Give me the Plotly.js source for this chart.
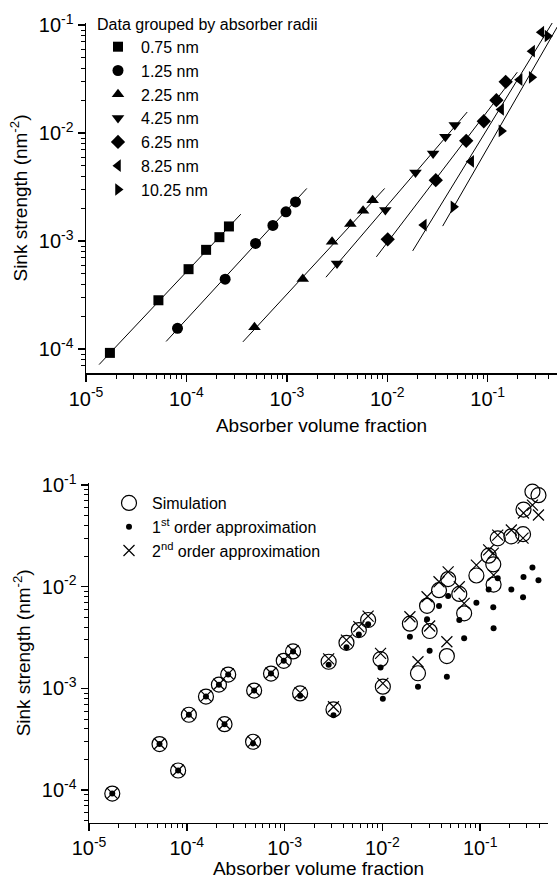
<!DOCTYPE html>
<html>
<head>
<meta charset="utf-8">
<script src="https://cdn.plot.ly/plotly-3.0.1.min.js"></script>
<style>html,body{margin:0;padding:0;background:#fff}</style>
</head>
<body>
<div id="chart" style="width:557px;height:879px"></div>
<script>
// ---------- Top panel: data grouped by absorber radii ----------
const r075_x = [1.73e-5, 5.26e-5, 1.05e-4, 1.57e-4, 2.13e-4, 2.65e-4];
const r075_y = [9.25e-5, 2.84e-4, 5.51e-4, 8.32e-4, 1.09e-3, 1.37e-3];
const r125_x = [8.15e-5, 2.43e-4, 4.88e-4, 7.26e-4, 9.80e-4, 1.22e-3];
const r125_y = [1.56e-4, 4.45e-4, 9.53e-4, 1.40e-3, 1.87e-3, 2.31e-3];
const r225_x = [4.76e-4, 1.44e-3, 2.82e-3, 4.29e-3, 5.74e-3, 7.14e-3];
const r225_y = [1.60e-4, 4.48e-4, 9.86e-4, 1.44e-3, 1.91e-3, 2.40e-3];
const r425_x = [3.16e-3, 9.57e-3, 1.91e-2, 2.86e-2, 3.79e-2, 4.70e-2];
const r425_y = [6.22e-4, 1.94e-3, 4.33e-3, 6.49e-3, 9.25e-3, 1.19e-2];
const r625_x = [1.01e-2, 3.04e-2, 6.11e-2, 9.14e-2, 0.122, 0.151];
const r625_y = [1.04e-3, 3.67e-3, 8.49e-3, 1.29e-2, 2.02e-2, 2.99e-2];
const r825_x = [2.31e-2, 6.85e-2, 0.136, 0.208, 0.277, 0.342];
const r825_y = [1.41e-3, 5.48e-3, 1.66e-2, 3.13e-2, 5.74e-2, 8.61e-2];
const r1025_x = [4.56e-2, 0.137, 0.274, 0.394];
const r1025_y = [2.08e-3, 1.05e-2, 3.29e-2, 7.94e-2];

// fitted lines (end points)
const fit075_x = [1.35e-5, 3.48e-4], fit075_y = [7.21e-5, 1.78e-3];
const fit125_x = [6.28e-5, 1.58e-3], fit125_y = [1.18e-4, 3.08e-3];
const fit225_x = [3.65e-4, 9.42e-3], fit225_y = [1.17e-4, 3.08e-3];
const fit425_x = [2.45e-3, 6.25e-2], fit425_y = [4.64e-4, 1.57e-2];
const fit625_x = [7.78e-3, 0.197],   fit625_y = [7.16e-4, 3.67e-2];
const fit825_x = [1.79e-2, 0.453],   fit825_y = [8.13e-4, 0.110];
const fit1025_x = [3.56e-2, 0.493],  fit1025_y = [1.38e-3, 0.0964];

const radiusLabels = ['0.75 nm','1.25 nm','2.25 nm','4.25 nm','6.25 nm','8.25 nm','10.25 nm'];

// ---------- Bottom panel: simulation vs approximations ----------
const sim_x = [
  1.73e-5, 5.26e-5, 1.05e-4, 1.57e-4, 2.13e-4, 2.65e-4,
  8.15e-5, 2.43e-4, 4.88e-4, 7.26e-4, 9.80e-4, 1.22e-3,
  4.76e-4, 1.44e-3, 2.82e-3, 4.29e-3, 5.74e-3, 7.14e-3,
  3.16e-3, 9.57e-3, 1.91e-2, 2.86e-2, 3.79e-2, 4.70e-2,
  1.01e-2, 3.04e-2, 6.11e-2, 9.14e-2, 0.122, 0.151,
  2.31e-2, 6.85e-2, 0.136, 0.208, 0.277, 0.342,
  4.56e-2, 0.137, 0.274, 0.394];
const sim_y = [
  9.25e-5, 2.84e-4, 5.51e-4, 8.32e-4, 1.09e-3, 1.37e-3,
  1.56e-4, 4.45e-4, 9.53e-4, 1.40e-3, 1.87e-3, 2.31e-3,
  2.99e-4, 8.93e-4, 1.83e-3, 2.81e-3, 3.75e-3, 4.71e-3,
  6.22e-4, 1.94e-3, 4.33e-3, 6.49e-3, 9.25e-3, 1.19e-2,
  1.04e-3, 3.67e-3, 8.49e-3, 1.29e-2, 2.02e-2, 2.99e-2,
  1.41e-3, 5.48e-3, 1.66e-2, 3.13e-2, 5.74e-2, 8.61e-2,
  2.08e-3, 1.05e-2, 3.29e-2, 7.94e-2];
const first_y = [
  9.25e-5, 2.84e-4, 5.51e-4, 8.32e-4, 1.09e-3, 1.37e-3,
  1.56e-4, 4.45e-4, 9.53e-4, 1.40e-3, 1.87e-3, 2.31e-3,
  2.88e-4, 8.47e-4, 1.71e-3, 2.54e-3, 3.40e-3, 4.27e-3,
  5.45e-4, 1.61e-3, 3.22e-3, 4.78e-3, 6.46e-3, 8.11e-3,
  7.92e-4, 2.35e-3, 4.71e-3, 6.97e-3, 9.42e-3, 1.21e-2,
  1.04e-3, 3.11e-3, 6.27e-3, 9.42e-3, 1.25e-2, 1.55e-2,
  1.30e-3, 3.90e-3, 7.87e-3, 1.16e-2];
const second_y = [
  9.3e-5, 2.86e-4, 5.55e-4, 8.4e-4, 1.10e-3, 1.39e-3,
  1.57e-4, 4.5e-4, 9.6e-4, 1.42e-3, 1.90e-3, 2.35e-3,
  3.0e-4, 9.1e-4, 1.95e-3, 2.99e-3, 4.05e-3, 5.15e-3,
  6.61e-4, 2.21e-3, 5.07e-3, 7.98e-3, 1.12e-2, 1.40e-2,
  1.12e-3, 4.11e-3, 1.00e-2, 1.63e-2, 2.30e-2, 3.22e-2,
  1.83e-3, 6.87e-3, 2.14e-2, 3.61e-2, 5.31e-2, 6.35e-2,
  2.88e-3, 1.30e-2, 3.01e-2, 5.07e-2];

const seriesLabels = ['Simulation', '1<sup>st</sup> order approximation', '2<sup>nd</sup> order approximation'];
const xTickVals = [1e-5, 1e-4, 1e-3, 1e-2, 1e-1];
const xTickText = ['10<sup>-5</sup>','10<sup>-4</sup>','10<sup>-3</sup>','10<sup>-2</sup>','10<sup>-1</sup>'];
const yTickVals = [1e-4, 1e-3, 1e-2, 1e-1];
const yTickText = ['10<sup>-4</sup>','10<sup>-3</sup>','10<sup>-2</sup>','10<sup>-1</sup>'];

// ---------- build ----------
const FONT = 'Liberation Sans, Arial, Helvetica, sans-serif';
const groups = [
  [r075_x, r075_y, 'square', 10, fit075_x, fit075_y],
  [r125_x, r125_y, 'circle', 11, fit125_x, fit125_y],
  [r225_x, r225_y, 'triangle-up', 11, fit225_x, fit225_y],
  [r425_x, r425_y, 'triangle-down', 11, fit425_x, fit425_y],
  [r625_x, r625_y, 'diamond', 11, fit625_x, fit625_y],
  [r825_x, r825_y, 'triangle-left', 11, fit825_x, fit825_y],
  [r1025_x, r1025_y, 'triangle-right', 11, fit1025_x, fit1025_y]
];
const traces = [];
groups.forEach(g => {
  traces.push({x: g[4], y: g[5], type: 'scatter', mode: 'lines', xaxis: 'x', yaxis: 'y',
    line: {color: '#000', width: 1}, showlegend: false, hoverinfo: 'skip'});
});
groups.forEach((g, i) => {
  traces.push({x: g[0], y: g[1], type: 'scatter', mode: 'markers', xaxis: 'x', yaxis: 'y',
    name: radiusLabels[i], legend: 'legend',
    marker: {symbol: g[2], size: g[3], color: '#000', line: {width: 0}}});
});
traces.push({x: sim_x, y: sim_y, type: 'scatter', mode: 'markers', xaxis: 'x2', yaxis: 'y2',
  name: seriesLabels[0], legend: 'legend2',
  marker: {symbol: 'circle-open', size: 15, color: '#000', line: {width: 1.2, color: '#000'}}});
traces.push({x: sim_x, y: first_y, type: 'scatter', mode: 'markers', xaxis: 'x2', yaxis: 'y2',
  name: seriesLabels[1], legend: 'legend2',
  marker: {symbol: 'circle', size: 6, color: '#000'}});
traces.push({x: sim_x, y: second_y, type: 'scatter', mode: 'markers', xaxis: 'x2', yaxis: 'y2',
  name: seriesLabels[2], legend: 'legend2',
  marker: {symbol: 'x-thin-open', size: 11, color: '#000', line: {width: 1.2, color: '#000'}}});

function minorVals(lo, hi) {
  const v = [];
  for (let e = lo; e <= hi; e++) for (let m = 2; m <= 9; m++) v.push(m * Math.pow(10, e));
  return v;
}
const MINOR = {ticks: 'outside', ticklen: 4, tickwidth: 1, tickcolor: '#000', showgrid: false,
  tickmode: 'array', tickvals: minorVals(-5, -1)};
function axisBase(extra) {
  return Object.assign({
    type: 'log', showline: true, linecolor: '#000', linewidth: 1.5, mirror: false,
    ticks: 'outside', ticklen: 7, tickwidth: 1.5, tickcolor: '#000',
    showgrid: false, zeroline: false, tickfont: {family: FONT, size: 20, color: '#000'},
    minor: MINOR
  }, extra);
}
const W = 557, H = 879;
const layout = {
  width: W, height: H, margin: {l: 0, r: 0, t: 0, b: 0},
  paper_bgcolor: '#fff', plot_bgcolor: '#fff',
  font: {family: FONT, color: '#000'},
  xaxis: axisBase({domain: [86 / W, 1], range: [-5, -0.31], anchor: 'y',
    tickmode: 'array', tickvals: xTickVals, ticktext: xTickText,
    title: {text: 'Absorber volume fraction', font: {family: FONT, size: 19}, standoff: 10}}),
  yaxis: axisBase({domain: [1 - 373 / H, 1 - 23 / H], range: [-4.22, -0.98], anchor: 'x',
    tickmode: 'array', tickvals: yTickVals, ticktext: yTickText,
    title: {text: 'Sink strength (nm<sup>-2</sup>)', font: {family: FONT, size: 19}, standoff: 6}}),
  xaxis2: axisBase({domain: [89 / W, 548 / W], range: [-5, -0.307], anchor: 'y2',
    tickmode: 'array', tickvals: xTickVals, ticktext: xTickText,
    title: {text: 'Absorber volume fraction', font: {family: FONT, size: 19}, standoff: 2}}),
  yaxis2: axisBase({domain: [1 - 822.7 / H, 1 - 483 / H], range: [-4.32, -0.98], anchor: 'x2',
    tickmode: 'array', tickvals: yTickVals, ticktext: yTickText,
    title: {text: 'Sink strength (nm<sup>-2</sup>)', font: {family: FONT, size: 19}, standoff: 6}}),
  legend: {x: 95 / W, y: 1 - 9 / H, xanchor: 'left', yanchor: 'top', bgcolor: 'rgba(0,0,0,0)',
    font: {family: FONT, size: 16, color: '#000'}, tracegroupgap: 0, itemwidth: 36,
    title: {text: 'Data grouped by absorber radii', font: {family: FONT, size: 16}}},
  legend2: {x: 106 / W, y: 1 - 486 / H, xanchor: 'left', yanchor: 'top', bgcolor: 'rgba(0,0,0,0)',
    font: {family: FONT, size: 16, color: '#000'}, tracegroupgap: 0, itemwidth: 36}
};
Plotly.newPlot('chart', traces, layout, {displayModeBar: false, staticPlot: true});
</script>
</body>
</html>
